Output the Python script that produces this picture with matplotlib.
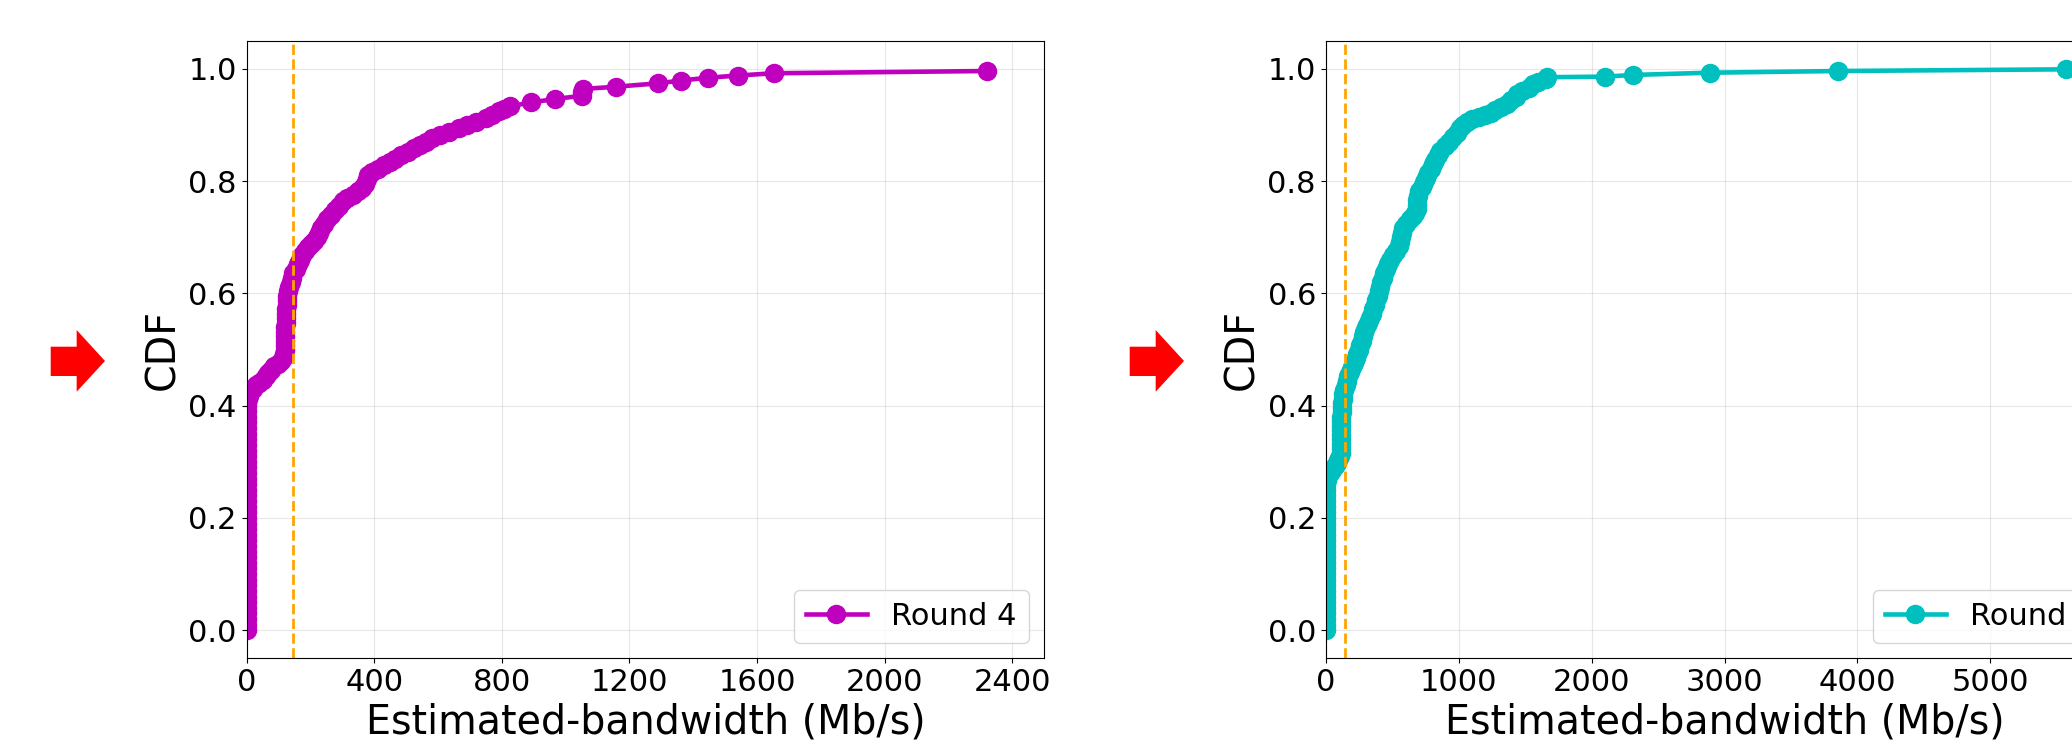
import matplotlib
matplotlib.use("Agg")
import matplotlib.pyplot as plt
from matplotlib.patches import Polygon

# Round 4 CDF (estimated bandwidth in Mb/s vs cumulative fraction)
r4_bw = [0, 0, 0, 0, 0, 0, 0, 0, 0, 0, 0, 0, 0, 0, 0, 0, 0, 0, 0, 0, 0,
         0, 0, 0, 0, 0, 0, 0, 0, 0, 0, 0, 0, 0, 0, 0, 0, 0, 0, 0, 0, 0,
         4, 8, 12, 20, 28, 38, 52, 60, 68, 76, 86, 98, 108, 115, 118, 120,
         121, 121, 122, 122, 122, 123, 123, 124, 125, 126, 127, 128, 131,
         134, 138, 142, 147, 154, 160, 166, 174, 182, 192, 202, 212, 220,
         226, 234, 242, 252, 266, 278, 290, 302, 316, 332, 348, 362, 370,
         376, 382, 394, 412, 430, 448, 466, 484, 505, 525, 545, 562, 580,
         605, 635, 665, 690, 720, 750, 770, 790, 808, 826, 890, 966, 1050,
         1052, 1054, 1157, 1289, 1361, 1445, 1541, 1652, 2321]
r4_cdf = [0.00, 0.01, 0.02, 0.03, 0.04, 0.05, 0.06, 0.07, 0.08, 0.09,
          0.10, 0.11, 0.12, 0.13, 0.14, 0.15, 0.16, 0.17, 0.18, 0.19,
          0.20, 0.21, 0.22, 0.23, 0.24, 0.25, 0.26, 0.27, 0.28, 0.29,
          0.30, 0.31, 0.32, 0.33, 0.34, 0.35, 0.36, 0.37, 0.38, 0.39,
          0.40, 0.405,
          0.412, 0.418, 0.424, 0.430, 0.436, 0.441, 0.446, 0.452, 0.458,
          0.464, 0.470, 0.475, 0.479, 0.485, 0.492, 0.500, 0.508, 0.516,
          0.524, 0.532, 0.540, 0.548, 0.556, 0.564, 0.572, 0.580, 0.588,
          0.596, 0.604, 0.612, 0.620, 0.628, 0.636, 0.644, 0.652, 0.660,
          0.668, 0.675, 0.682, 0.688, 0.694, 0.700, 0.708, 0.716, 0.724,
          0.732, 0.740, 0.748, 0.756, 0.764, 0.770, 0.776, 0.782, 0.788,
          0.795, 0.803, 0.810, 0.816, 0.822, 0.828, 0.834, 0.840, 0.846,
          0.852, 0.858, 0.864, 0.870, 0.876, 0.882, 0.888, 0.894, 0.900,
          0.906, 0.912, 0.918, 0.924, 0.929, 0.933, 0.940, 0.946, 0.952,
          0.958, 0.964, 0.968, 0.974, 0.979, 0.984, 0.988, 0.992, 0.996]

# Round 5 CDF
r5_bw = [0, 0, 0, 0, 0, 0, 0, 0, 0, 0, 0, 0, 0, 0, 0, 0, 0, 0, 0, 0, 0,
         0, 0, 0, 0, 0, 0,
         8, 18, 35, 50, 68, 82, 95, 106, 115, 117, 118, 118, 118, 118,
         118, 119, 119, 120, 122, 125, 128, 132, 140, 150, 160, 170, 185,
         198, 212, 225, 238, 250, 262, 272, 282, 292, 302, 318, 332, 345,
         356, 368, 380, 392, 402, 410, 418, 430, 442, 455, 468, 482, 505,
         530, 550, 562, 570, 576, 582, 605, 635, 655, 672, 684, 688, 690,
         692, 705, 722, 738, 752, 772, 790, 808, 825, 845, 862, 895, 930,
         958, 985, 1010, 1030, 1060, 1100, 1150, 1201, 1240, 1274, 1320,
         1365, 1395, 1430, 1440, 1480, 1529, 1560, 1600, 1657, 1662, 2102,
         2314, 2891, 3854, 5570]
r5_cdf = [0.00, 0.01, 0.02, 0.03, 0.04, 0.05, 0.06, 0.07, 0.08, 0.09,
          0.10, 0.11, 0.12, 0.13, 0.14, 0.15, 0.16, 0.17, 0.18, 0.19,
          0.20, 0.21, 0.22, 0.23, 0.24, 0.25, 0.26,
          0.268, 0.274, 0.280, 0.286, 0.292, 0.298, 0.304, 0.310, 0.316,
          0.324, 0.332, 0.340, 0.348, 0.356, 0.364, 0.372, 0.380, 0.388,
          0.396, 0.404, 0.412, 0.420, 0.428, 0.436, 0.444, 0.452, 0.460,
          0.468, 0.476, 0.484, 0.492, 0.500, 0.508, 0.516, 0.524, 0.532,
          0.540, 0.548, 0.556, 0.564, 0.572, 0.580, 0.588, 0.596, 0.604,
          0.612, 0.620, 0.628, 0.636, 0.644, 0.652, 0.660, 0.668, 0.676,
          0.684, 0.692, 0.700, 0.708, 0.716, 0.724, 0.732, 0.738, 0.744,
          0.750, 0.758, 0.766, 0.774, 0.782, 0.790, 0.798, 0.806, 0.814,
          0.822, 0.830, 0.838, 0.846, 0.854, 0.862, 0.870, 0.878, 0.886,
          0.894, 0.900, 0.905, 0.910, 0.914, 0.917, 0.921, 0.926, 0.932,
          0.938, 0.944, 0.950, 0.955, 0.960, 0.966, 0.972, 0.977, 0.981,
          0.985, 0.986, 0.989, 0.993, 0.996, 0.999]

threshold = 145

panels = [
    (r4_bw, r4_cdf, 'm', 'Round 4', 2500, [0, 400, 800, 1200, 1600, 2000, 2400]),
    (r5_bw, r5_cdf, 'c', 'Round 5', 6000, [0, 1000, 2000, 3000, 4000, 5000, 6000]),
]

fig = plt.figure(figsize=(20.72, 7.48), dpi=100)
lefts = [0.1190, 0.6398]

for left, (bw, cdf, color, label, xmax, xticks) in zip(lefts, panels):
    ax = fig.add_axes([left, 0.1199, 0.3850, 0.8257])
    ax.plot(bw, cdf, color=color, marker='o', markersize=13, linewidth=3.3,
            label=label)
    ax.axvline(threshold, color='orange', linestyle='--', linewidth=2)
    ax.set_xlim(0, xmax)
    ax.set_ylim(-0.05, 1.05)
    ax.set_xticks(xticks)
    ax.set_yticks([0.0, 0.2, 0.4, 0.6, 0.8, 1.0])
    ax.tick_params(labelsize=22)
    ax.grid(True, alpha=0.3)
    ax.set_xlabel('Estimated-bandwidth (Mb/s)', fontsize=28.5)
    ax.set_ylabel('CDF', fontsize=28.5)
    ax.legend(loc='lower right', fontsize=22)

# red pointer arrows next to each CDF label
arrow = [(0.02447, 0.4973), (0.0370, 0.4973), (0.0370, 0.4763),
         (0.05068, 0.5174), (0.0370, 0.5588), (0.0370, 0.5365),
         (0.02447, 0.5365)]
for dx in [0.0, 1079 / 2072]:
    pts = [(x + dx, y) for x, y in arrow]
    fig.patches.append(Polygon(pts, closed=True, facecolor='red',
                               edgecolor='none', transform=fig.transFigure))

plt.savefig('out.png', dpi=100)
